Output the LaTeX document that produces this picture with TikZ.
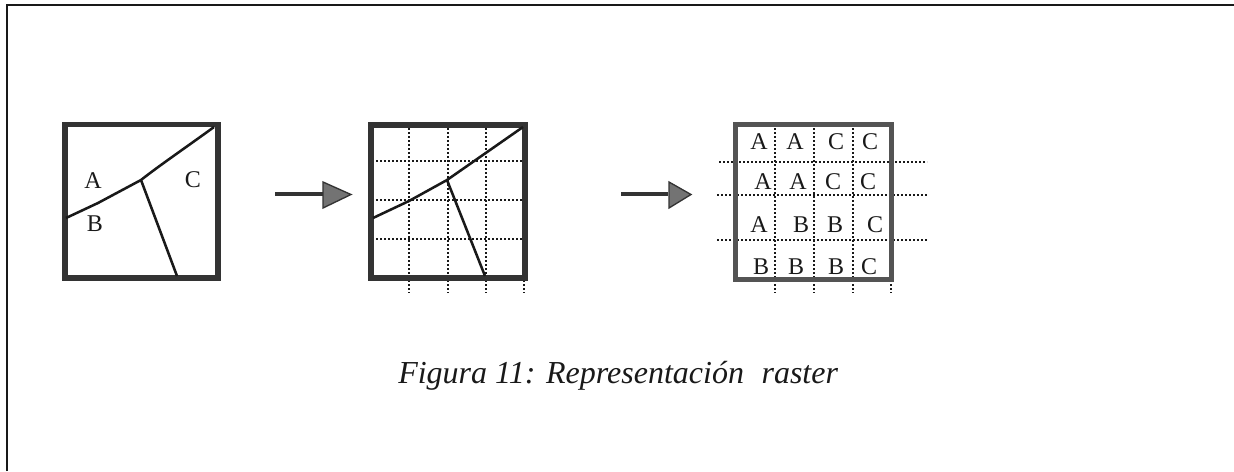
\documentclass[tikz,border=0pt]{standalone}
\usepackage{fontspec}
\setmainfont{Liberation Serif}
\definecolor{ink}{gray}{0.1}
\definecolor{rim}{gray}{0.2}
\definecolor{rimlight}{gray}{0.33}
\definecolor{headfill}{gray}{0.45}
\tikzset{
  x=0.75pt,y=-0.75pt,
  frameline/.style={draw=ink,line width=1.1pt},
  boxrim/.style={draw=rim,line width=4.4pt,fill=none},
  thinrim/.style={draw=rimlight,line width=4.2pt,fill=none},
  region/.style={draw=ink,line width=1.9pt,line join=round},
  gridline/.style={draw=ink,line width=1pt,dash pattern=on 1.2pt off 1.8pt},
  lab/.style={font=\fontsize{18}{18}\selectfont,text=ink,inner sep=0pt},
  arrowshaft/.style={draw=rim,line width=3pt},
  arrowhead/.style={draw=rim,fill=headfill,line width=1pt,line join=miter},
  caption/.style={font=\fontsize{24}{26}\selectfont\itshape,text=ink,inner sep=0pt}
}
\begin{document}
\begin{tikzpicture}
\useasboundingbox (0,0) rectangle (1234,471);
\fill[white] (0,0) rectangle (1234,471);
% outer frame: only left and top edges are printed
\coordinate (fa) at (7,5); \coordinate (fb) at (1234,5);
\coordinate (fd) at (7,471);
\draw[frameline] (fd) -- (fa) -- (fb);

% panel 1
\draw[boxrim] (65,124.5) rectangle (218,278);
\coordinate (p1l) at (66,218); \coordinate (p1j) at (141,180);
\coordinate (p1t) at (214,127); \coordinate (p1b) at (177,276);
\draw[region] (p1l) -- (98,203) -- (p1j) .. controls (160,165) and (188,146) .. (p1t);
\draw[region] (p1j) -- (p1b);
\node[lab] (a1) at (93,181) {A};
\node[lab] (b1l) at (95,224) {B};
\node[lab] (c1) at (193,180) {C};

% arrow 1
\coordinate (r1s) at (275,194); \coordinate (r1e) at (323,194);
\draw[arrowshaft] (r1s) -- (r1e);
\draw[arrowhead] (323,182) -- (351,194.5) -- (323,208) -- cycle;

% panel 2
\foreach \x in {409,448,486,524} \draw[gridline] (\x,124) -- (\x,293);
\foreach \y in {161,200,239} \draw[gridline] (376,\y) -- (524,\y);
\draw[boxrim] (371,125) rectangle (525,278);
\coordinate (p2l) at (373,218); \coordinate (p2j) at (447,180);
\coordinate (p2t) at (523,127); \coordinate (p2b) at (485,276);
\draw[region] (p2l) -- (409,201) -- (p2j) -- (p2t);
\draw[region] (p2j) -- (p2b);

% arrow 2
\coordinate (r2s) at (621,194); \coordinate (r2e) at (668,194);
\draw[arrowshaft] (r2s) -- (r2e);
\draw[arrowhead] (669,182) -- (691,194.5) -- (669,208) -- cycle;

% panel 3
\foreach \x in {775,814,853,891} \draw[gridline] (\x,124) -- (\x,293);
\draw[gridline] (719,162) -- (927,162);
\draw[gridline] (717,195) -- (927,195);
\draw[gridline] (717,240) -- (927,240);
\draw[thinrim] (735.5,124.5) rectangle (891.5,279.5);
\node[lab] (r11) at (759,142) {A};
\node[lab] (r12) at (795,142) {A};
\node[lab] (r13) at (836,142) {C};
\node[lab] (r14) at (870,142) {C};
\node[lab] (r21) at (763,182) {A};
\node[lab] (r22) at (798,182) {A};
\node[lab] (r23) at (833,182) {C};
\node[lab] (r24) at (868,182) {C};
\node[lab] (r31) at (759,225) {A};
\node[lab] (r32) at (801,225) {B};
\node[lab] (r33) at (835,225) {B};
\node[lab] (r34) at (875,225) {C};
\node[lab] (r41) at (761,267) {B};
\node[lab] (r42) at (796,267) {B};
\node[lab] (r43) at (836,267) {B};
\node[lab] (r44) at (869,267) {C};

% caption
\node[caption,anchor=base west] (cap) at (398,383) {Figura 11: Representación\hspace{0.3em} raster};
\end{tikzpicture}
\end{document}
